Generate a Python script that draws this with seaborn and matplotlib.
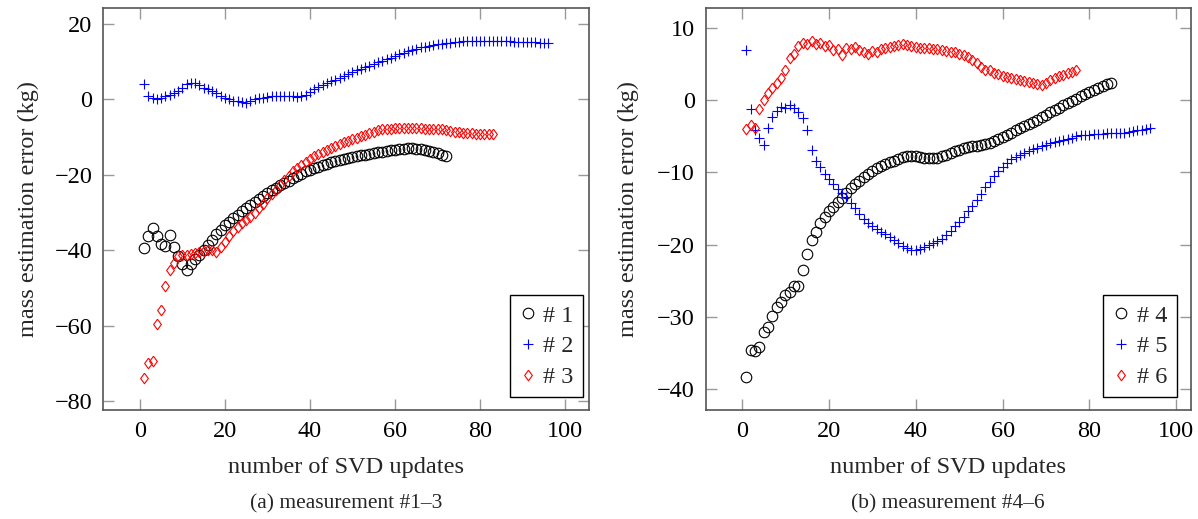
import matplotlib
matplotlib.use("Agg")
import matplotlib.pyplot as plt
import seaborn as sns
import pandas as pd

# ---------------- data ----------------
s1 = [-39.4, -36.2, -34.1, -36.3, -38.4, -38.9, -35.9, -39.1, -41.6, -43.6,
      -45.2, -43.6, -42.2, -41.3, -40.0, -38.7, -37.3, -35.7, -34.5, -33.3,
      -32.4, -31.5, -30.6, -29.7, -28.9, -28.1, -27.2, -26.3, -25.5, -24.8,
      -24.1, -23.4, -22.8, -22.2, -21.5, -20.9, -20.3, -19.7, -19.1, -18.6,
      -18.2, -17.8, -17.4, -17.0, -16.7, -16.4, -16.1, -15.8, -15.6, -15.3,
      -15.0, -14.8, -14.6, -14.4, -14.2, -14.0, -13.8, -13.6, -13.5, -13.3,
      -13.2, -13.1, -13.0, -13.0, -13.1, -13.2, -13.4, -13.7, -14.0, -14.3,
      -14.6, -14.9]
s2 = [4.0, 0.9, 0.3, 0.2, 0.4, 0.9, 1.3, 1.6, 2.2, 3.1,
      4.0, 4.3, 4.3, 3.8, 3.1, 2.7, 2.2, 1.6, 0.9, 0.4,
      0.0, -0.3, -0.4, -0.7, -0.9, -0.4, 0.0, 0.3, 0.4, 0.6,
      0.9, 0.9, 0.9, 0.9, 0.9, 0.9, 0.7, 0.9, 1.3, 2.0,
      2.7, 3.3, 3.8, 4.3, 4.9, 5.3, 5.8, 6.2, 6.8, 7.3,
      7.8, 8.2, 8.6, 9.0, 9.4, 9.9, 10.3, 10.8, 11.1, 11.6,
      12.0, 12.4, 12.8, 13.2, 13.5, 13.8, 14.0, 14.2, 14.4, 14.6,
      14.8, 14.9, 15.1, 15.2, 15.3, 15.4, 15.5, 15.5, 15.6, 15.6,
      15.6, 15.6, 15.5, 15.5, 15.5, 15.4, 15.4, 15.3, 15.3, 15.3,
      15.2, 15.2, 15.2, 15.1, 15.1, 15.1]
s3 = [-73.8, -70.0, -69.3, -59.6, -55.8, -49.6, -45.3, -43.4, -41.6, -41.3,
      -41.3, -41.1, -40.7, -40.4, -40.2, -40.0, -40.0, -40.4, -39.1, -37.8,
      -36.3, -34.8, -33.8, -32.9, -32.0, -31.1, -30.0, -28.9, -27.6, -26.2,
      -25.1, -24.0, -22.7, -21.3, -20.3, -19.1, -18.2, -17.3, -16.5, -15.8,
      -15.1, -14.5, -13.9, -13.4, -12.9, -12.4, -11.9, -11.4, -10.9, -10.5,
      -10.1, -9.7, -9.3, -8.9, -8.5, -8.1, -7.8, -7.7, -7.7, -7.6,
      -7.6, -7.6, -7.6, -7.6, -7.6, -7.6, -7.7, -7.7, -7.7, -7.8,
      -7.9, -8.1, -8.3, -8.5, -8.7, -8.8, -8.9, -9.0, -9.1, -9.1,
      -9.2, -9.2, -9.2]
s4 = [-38.3, -34.6, -34.8, -34.2, -32.1, -31.4, -29.9, -28.7, -27.9, -27.0,
      -26.6, -25.8, -25.8, -23.5, -21.3, -19.4, -18.3, -17.0, -16.2, -15.4,
      -14.8, -14.1, -13.5, -12.8, -12.2, -11.6, -11.2, -10.7, -10.2, -9.8,
      -9.4, -9.1, -8.8, -8.6, -8.4, -8.2, -7.9, -7.8, -7.8, -7.8,
      -7.9, -8.0, -8.0, -8.0, -8.0, -7.8, -7.6, -7.3, -7.1, -6.9,
      -6.7, -6.5, -6.4, -6.3, -6.2, -6.1, -6.0, -5.7, -5.4, -5.1,
      -4.8, -4.5, -4.2, -3.9, -3.6, -3.3, -3.0, -2.7, -2.4, -2.1,
      -1.7, -1.4, -1.1, -0.7, -0.4, -0.1, 0.2, 0.5, 0.8, 1.1,
      1.4, 1.7, 2.0, 2.2, 2.4]
s5 = [6.9, -1.3, -4.2, -5.3, -6.2, -3.9, -2.3, -1.5, -0.9, -1.1,
      -0.7, -1.1, -1.7, -2.5, -4.2, -6.9, -8.4, -9.3, -10.2, -10.9,
      -11.6, -12.3, -12.8, -13.4, -14.2, -15.0, -15.8, -16.5, -17.0, -17.4,
      -17.8, -18.2, -18.6, -19.0, -19.4, -19.8, -20.2, -20.5, -20.7, -20.7,
      -20.6, -20.4, -20.1, -19.8, -19.5, -19.2, -18.7, -18.1, -17.5, -16.9,
      -16.2, -15.4, -14.7, -13.9, -13.0, -12.1, -11.3, -10.5, -9.8, -9.2,
      -8.7, -8.2, -7.9, -7.6, -7.3, -7.1, -6.8, -6.6, -6.4, -6.2,
      -6.0, -5.8, -5.7, -5.5, -5.4, -5.2, -5.0, -4.9, -4.8, -4.8,
      -4.7, -4.7, -4.7, -4.6, -4.6, -4.6, -4.5, -4.5, -4.4, -4.3,
      -4.2, -4.1, -4.0, -3.9]
s6 = [-4.0, -3.4, -3.8, -1.3, 0.0, 1.0, 1.7, 2.3, 3.0, 4.1,
      5.8, 6.4, 7.5, 7.9, 7.8, 8.2, 7.8, 7.9, 7.5, 7.6,
      6.9, 7.0, 6.3, 7.2, 7.0, 7.3, 6.9, 6.7, 6.4, 6.8,
      6.6, 7.0, 7.2, 7.3, 7.5, 7.6, 7.8, 7.6, 7.5, 7.3,
      7.2, 7.2, 7.2, 7.0, 7.0, 6.9, 6.8, 6.7, 6.6, 6.4,
      6.2, 5.9, 5.5, 5.1, 4.6, 4.2, 4.1, 3.8, 3.6, 3.3,
      3.2, 3.0, 2.9, 2.8, 2.6, 2.5, 2.4, 2.2, 2.1, 2.4,
      2.8, 3.1, 3.3, 3.5, 3.7, 3.9, 4.2]

labels_a = ["# 1", "# 2", "# 3"]
labels_b = ["# 4", "# 5", "# 6"]
x_ticks = [0, 20, 40, 60, 80, 100]
y_ticks_a = [-80, -60, -40, -20, 0, 20]
y_ticks_b = [-40, -30, -20, -10, 0, 10]
xlabel = "number of SVD updates"
ylabel = "mass estimation error (kg)"
caption_a = "(a) measurement #1–3"
caption_b = "(b) measurement #4–6"

# ---------------- style ----------------
sns.set_theme(style="white")
plt.rcParams["font.family"] = ["Liberation Serif", "DejaVu Serif"]
plt.rcParams["axes.unicode_minus"] = True

FS = 17.5
diamond = [(0, 1), (0.73, 0), (0, -1), (-0.73, 0), (0, 1)]
styles = [
    dict(marker="o", color="black", ms=7.6),
    dict(marker="+", color="#0000ff", ms=7.4),
    dict(marker=diamond, color="#ff0000", ms=7.6),
]

fig = plt.figure(figsize=(11.98, 5.19), dpi=100)
ax1 = fig.add_axes([0.0862, 0.21, 0.4054, 0.774])
ax2 = fig.add_axes([0.5893, 0.21, 0.4046, 0.774])


def draw(ax, series, labels):
    for y, lab, st in zip(series, labels, styles):
        df = pd.DataFrame({"x": range(1, len(y) + 1), "y": y})
        sns.lineplot(data=df, x="x", y="y", ax=ax, sort=False,
                     linestyle="", marker=st["marker"], markersize=st["ms"],
                     markerfacecolor="none", markeredgecolor=st["color"],
                     markeredgewidth=0.8, color=st["color"], label=lab)


draw(ax1, [s1, s2, s3], labels_a)
draw(ax2, [s4, s5, s6], labels_b)

ax1.set_xlim(-8.6, 105.6)
ax1.set_ylim(-82.4, 24.2)
ax2.set_xlim(-8.3, 103.3)
ax2.set_ylim(-42.9, 12.7)

for ax, yt, legx in [(ax1, y_ticks_a, 0.988), (ax2, y_ticks_b, 0.971)]:
    ax.set_xticks(x_ticks)
    ax.set_yticks(yt)
    ax.tick_params(direction="in", length=8, width=1.0, color="#999999",
                   top=True, right=True, bottom=True, left=True,
                   labelsize=FS, pad=8, labelcolor="black")
    for sp in ax.spines.values():
        sp.set_color("#555555")
        sp.set_linewidth(1.2)
    ax.set_xlabel(xlabel, fontsize=FS)
    ax.set_ylabel(ylabel, fontsize=FS)
    ax.xaxis.set_label_coords(0.5, -0.142)
    ax.xaxis.label.set_va("center")
    ax.yaxis.label.set_va("center")
    leg = ax.legend(loc="lower right", bbox_to_anchor=(legx, 0.0316),
                    fontsize=FS, numpoints=1, handlelength=0.7,
                    handletextpad=0.3, labelspacing=0.36, borderpad=0.38,
                    borderaxespad=0.0, fancybox=False, framealpha=1,
                    edgecolor="black")
    leg.get_frame().set_linewidth(1.0)

ax1.yaxis.set_label_coords(-0.155, 0.5)
ax2.yaxis.set_label_coords(-0.161, 0.5)

fig.text(346 / 1198, 1 - 504 / 519, caption_a, ha="center", va="center", fontsize=15.5)
fig.text(948 / 1198, 1 - 504 / 519, caption_b, ha="center", va="center", fontsize=15.5)

fig.savefig("out.png", dpi=100)
